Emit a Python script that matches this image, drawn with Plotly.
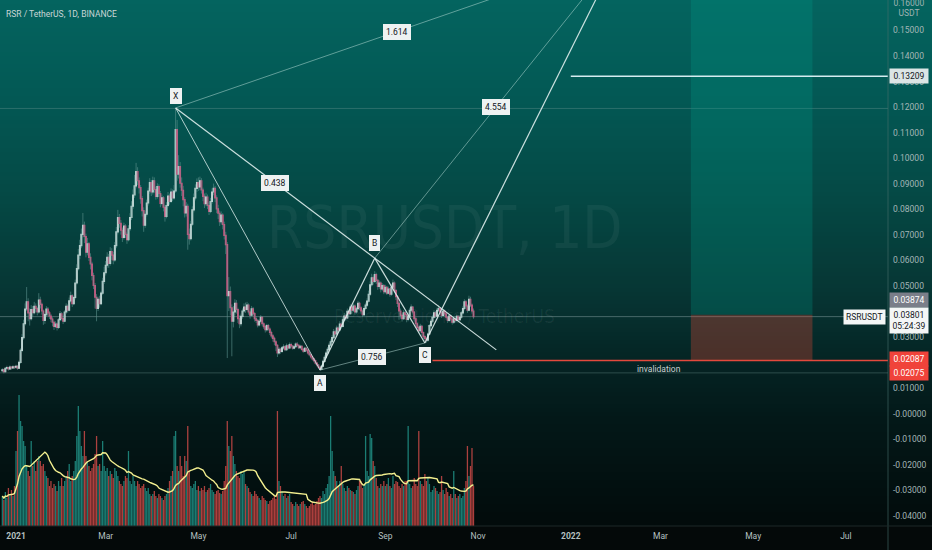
import numpy as np
import pandas as pd
import plotly.graph_objects as go

# ---------------- data ----------------
start_date = "2020-12-23"
first_open = 0.0169

close_dec = [0.0172,0.0165,0.0178,0.0181,0.0175,0.0183,0.0179,0.0184,0.0182]
high_dec = [0.0178,0.0176,0.0182,0.0188,0.0184,0.0189,0.0186,0.0190,0.0188]
low_dec = [0.0162,0.0158,0.0163,0.0172,0.0169,0.0171,0.0173,0.0176,0.0175]

close_jan = [0.0186,0.0178,0.0201,0.0248,0.0298,0.0352,0.0410,0.0438,0.0395,0.0372,0.0408,0.0396,0.0421,0.0412,0.0398,0.0445,0.0428,0.0402,0.0365,0.0388,0.0410,0.0395,0.0382,0.0371,0.0358,0.0342,0.0351,0.0338,0.0368,0.0391,0.0373]
high_jan = [0.0192,0.0190,0.0208,0.0256,0.0312,0.0368,0.0432,0.0496,0.0452,0.0412,0.0425,0.0422,0.0438,0.0432,0.0418,0.0472,0.0458,0.0435,0.0408,0.0395,0.0421,0.0418,0.0402,0.0391,0.0378,0.0365,0.0362,0.0358,0.0375,0.0402,0.0398]
low_jan = [0.0176,0.0172,0.0175,0.0196,0.0241,0.0290,0.0345,0.0402,0.0362,0.0345,0.0365,0.0381,0.0389,0.0398,0.0385,0.0392,0.0412,0.0388,0.0348,0.0352,0.0379,0.0383,0.0371,0.0358,0.0342,0.0328,0.0335,0.0326,0.0332,0.0362,0.0365]

close_feb = [0.0362,0.0398,0.0421,0.0405,0.0442,0.0462,0.0431,0.0455,0.0512,0.0568,0.0621,0.0658,0.0702,0.0738,0.0694,0.0632,0.0665,0.0612,0.0586,0.0541,0.0502,0.0456,0.0412,0.0448,0.0431,0.0472,0.0518,0.0552]
high_feb = [0.0385,0.0405,0.0432,0.0428,0.0455,0.0478,0.0468,0.0462,0.0525,0.0585,0.0645,0.0681,0.0725,0.0786,0.0752,0.0705,0.0688,0.0672,0.0628,0.0595,0.0552,0.0512,0.0468,0.0458,0.0462,0.0481,0.0532,0.0575]
low_feb = [0.0351,0.0358,0.0390,0.0396,0.0401,0.0435,0.0418,0.0425,0.0448,0.0505,0.0561,0.0605,0.0648,0.0690,0.0668,0.0612,0.0620,0.0598,0.0565,0.0522,0.0488,0.0412,0.0362,0.0402,0.0415,0.0425,0.0465,0.0508]

close_mar = [0.0581,0.0612,0.0588,0.0635,0.0621,0.0602,0.0658,0.0712,0.0768,0.0745,0.0718,0.0690,0.0735,0.0702,0.0681,0.0724,0.0768,0.0812,0.0856,0.0892,0.0948,0.0912,0.0885,0.0842,0.0795,0.0738,0.0781,0.0825,0.0872,0.0905,0.0868]
high_mar = [0.0598,0.0632,0.0625,0.0652,0.0648,0.0634,0.0672,0.0731,0.0798,0.0782,0.0758,0.0729,0.0748,0.0742,0.0712,0.0738,0.0785,0.0832,0.0878,0.0935,0.0982,0.0965,0.0925,0.0895,0.0852,0.0808,0.0795,0.0838,0.0885,0.0922,0.0915]
low_mar = [0.0541,0.0572,0.0571,0.0580,0.0602,0.0585,0.0595,0.0648,0.0702,0.0728,0.0701,0.0672,0.0682,0.0688,0.0665,0.0675,0.0715,0.0758,0.0802,0.0845,0.0882,0.0895,0.0862,0.0822,0.0772,0.0712,0.0728,0.0772,0.0815,0.0861,0.0852]

close_apr = [0.0912,0.0878,0.0851,0.0889,0.0862,0.0823,0.0845,0.0808,0.0772,0.0815,0.0852,0.0831,0.0868,0.0845,0.0872,0.1112,0.0938,0.0968,0.0902,0.0875,0.0838,0.0786,0.0812,0.0702,0.0685,0.0742,0.0798,0.0845,0.0882,0.0905]
high_apr = [0.0928,0.0925,0.0889,0.0902,0.0898,0.0872,0.0858,0.0852,0.0818,0.0828,0.0868,0.0862,0.0882,0.0878,0.0895,0.1193,0.1150,0.1012,0.0985,0.0925,0.0892,0.0848,0.0828,0.0822,0.0725,0.0755,0.0812,0.0862,0.0898,0.0921]
low_apr = [0.0858,0.0865,0.0838,0.0842,0.0848,0.0808,0.0815,0.0792,0.0752,0.0765,0.0808,0.0818,0.0825,0.0832,0.0838,0.0865,0.0912,0.0921,0.0885,0.0852,0.0812,0.0768,0.0772,0.0642,0.0662,0.0678,0.0735,0.0788,0.0835,0.0868]

close_may = [0.0888,0.0912,0.0876,0.0851,0.0822,0.0848,0.0815,0.0792,0.0831,0.0868,0.0882,0.0845,0.0802,0.0785,0.0752,0.0778,0.0741,0.0698,0.0662,0.0462,0.0478,0.0415,0.0362,0.0398,0.0432,0.0408,0.0372,0.0352,0.0381,0.0402,0.0418]
high_may = [0.0925,0.0928,0.0922,0.0885,0.0862,0.0865,0.0858,0.0828,0.0845,0.0882,0.0901,0.0892,0.0855,0.0818,0.0795,0.0792,0.0785,0.0752,0.0712,0.0672,0.0535,0.0498,0.0428,0.0421,0.0448,0.0445,0.0415,0.0385,0.0392,0.0412,0.0432]
low_may = [0.0872,0.0875,0.0862,0.0832,0.0805,0.0812,0.0801,0.0778,0.0785,0.0822,0.0855,0.0828,0.0785,0.0762,0.0735,0.0741,0.0722,0.0682,0.0625,0.0218,0.0402,0.0385,0.0225,0.0338,0.0385,0.0392,0.0355,0.0335,0.0342,0.0372,0.0395]

close_jun = [0.0408,0.0425,0.0398,0.0386,0.0411,0.0392,0.0372,0.0365,0.0348,0.0362,0.0378,0.0352,0.0341,0.0329,0.0345,0.0332,0.0318,0.0305,0.0295,0.0282,0.0268,0.0238,0.0252,0.0244,0.0258,0.0262,0.0251,0.0266,0.0258,0.0271]
high_jun = [0.0435,0.0438,0.0432,0.0405,0.0422,0.0418,0.0398,0.0382,0.0371,0.0371,0.0386,0.0382,0.0358,0.0348,0.0352,0.0351,0.0338,0.0325,0.0312,0.0302,0.0288,0.0272,0.0261,0.0258,0.0265,0.0272,0.0268,0.0275,0.0271,0.0279]
low_jun = [0.0395,0.0401,0.0388,0.0372,0.0381,0.0385,0.0361,0.0355,0.0338,0.0342,0.0355,0.0342,0.0332,0.0318,0.0322,0.0325,0.0308,0.0295,0.0282,0.0268,0.0245,0.0222,0.0231,0.0235,0.0238,0.0251,0.0245,0.0246,0.0252,0.0255]

close_jul = [0.0265,0.0257,0.0262,0.0273,0.0268,0.0259,0.0264,0.0252,0.0245,0.0256,0.0249,0.0238,0.0231,0.0222,0.0215,0.0208,0.0198,0.0191,0.0182,0.0174,0.0186,0.0205,0.0221,0.0238,0.0252,0.0268,0.0282,0.0298,0.0321,0.0312,0.0335]
high_jul = [0.0278,0.0269,0.0268,0.0279,0.0281,0.0272,0.0270,0.0268,0.0258,0.0262,0.0260,0.0252,0.0242,0.0235,0.0226,0.0219,0.0212,0.0203,0.0195,0.0186,0.0192,0.0212,0.0229,0.0246,0.0261,0.0278,0.0291,0.0308,0.0332,0.0328,0.0345]
low_jul = [0.0259,0.0251,0.0252,0.0258,0.0262,0.0253,0.0254,0.0247,0.0239,0.0241,0.0243,0.0232,0.0225,0.0216,0.0208,0.0201,0.0192,0.0185,0.0176,0.0169,0.0171,0.0182,0.0201,0.0215,0.0232,0.0245,0.0262,0.0275,0.0292,0.0301,0.0305]

close_aug = [0.0328,0.0351,0.0342,0.0368,0.0382,0.0375,0.0401,0.0392,0.0418,0.0405,0.0422,0.0398,0.0411,0.0432,0.0415,0.0402,0.0388,0.0412,0.0425,0.0441,0.0468,0.0505,0.0532,0.0518,0.0545,0.0522,0.0498,0.0512,0.0488,0.0502,0.0478]
high_aug = [0.0342,0.0362,0.0358,0.0378,0.0395,0.0391,0.0412,0.0408,0.0428,0.0425,0.0431,0.0428,0.0418,0.0442,0.0438,0.0421,0.0408,0.0421,0.0435,0.0452,0.0482,0.0518,0.0548,0.0541,0.0558,0.0552,0.0528,0.0522,0.0518,0.0511,0.0508]
low_aug = [0.0318,0.0322,0.0332,0.0338,0.0361,0.0365,0.0371,0.0382,0.0388,0.0395,0.0398,0.0388,0.0392,0.0405,0.0405,0.0392,0.0378,0.0382,0.0405,0.0418,0.0435,0.0461,0.0498,0.0505,0.0512,0.0508,0.0485,0.0489,0.0475,0.0481,0.0468]

close_sep = [0.0495,0.0472,0.0488,0.0468,0.0495,0.0512,0.0482,0.0458,0.0432,0.0402,0.0385,0.0372,0.0395,0.0388,0.0369,0.0382,0.0405,0.0418,0.0398,0.0372,0.0352,0.0338,0.0325,0.0342,0.0318,0.0302,0.0295,0.0288,0.0312,0.0345]
high_sep = [0.0505,0.0501,0.0498,0.0492,0.0508,0.0525,0.0518,0.0488,0.0465,0.0438,0.0412,0.0392,0.0405,0.0402,0.0392,0.0391,0.0415,0.0428,0.0422,0.0402,0.0378,0.0358,0.0345,0.0352,0.0348,0.0322,0.0308,0.0301,0.0318,0.0352]
low_sep = [0.0471,0.0465,0.0468,0.0458,0.0462,0.0488,0.0472,0.0445,0.0418,0.0368,0.0372,0.0361,0.0368,0.0378,0.0358,0.0362,0.0378,0.0398,0.0388,0.0361,0.0341,0.0328,0.0315,0.0318,0.0305,0.0291,0.0285,0.0278,0.0282,0.0308]

close_oct = [0.0362,0.0378,0.0395,0.0382,0.0405,0.0412,0.0398,0.0385,0.0402,0.0391,0.0378,0.0365,0.0382,0.0371,0.0358,0.0372,0.0365,0.0381,0.0368,0.0378,0.0395,0.0412,0.0438,0.0422,0.0405,0.0448,0.0425,0.0402,0.0380]
high_oct = [0.0371,0.0385,0.0405,0.0402,0.0415,0.0425,0.0418,0.0405,0.0411,0.0408,0.0395,0.0382,0.0391,0.0388,0.0375,0.0381,0.0378,0.0388,0.0385,0.0386,0.0402,0.0421,0.0448,0.0445,0.0428,0.0462,0.0458,0.0432,0.0412]
low_oct = [0.0338,0.0355,0.0372,0.0375,0.0378,0.0398,0.0388,0.0375,0.0381,0.0382,0.0368,0.0355,0.0361,0.0362,0.0349,0.0352,0.0358,0.0361,0.0361,0.0362,0.0372,0.0388,0.0405,0.0412,0.0395,0.0401,0.0418,0.0392,0.0372]

vol_dec = [30,26,34,28,38,32,36,30,40]
vol_jan = [75,95,131,105,100,85,80,60,55,50,85,60,65,55,65,70,65,60,62,55,50,48,40,45,38,42,40,35,45,40,48]
vol_feb = [40,45,50,55,62,45,50,55,65,90,120,95,80,70,95,70,65,60,55,58,62,72,90,60,62,55,85,60]
vol_mar = [55,58,50,55,52,48,58,55,50,45,42,40,45,50,48,75,45,42,50,45,40,45,42,38,40,42,38,35,38,32,30]
vol_apr = [32,35,30,28,32,30,28,26,30,32,38,45,50,55,90,95,60,55,70,60,50,70,65,100,55,40,38,42,45,36]
vol_may = [40,35,38,36,40,34,36,38,42,36,34,32,35,36,33,32,35,45,60,105,80,75,90,70,62,55,50,48,55,52,55]
vol_jun = [42,40,38,34,32,30,35,32,30,28,26,30,28,26,25,22,25,26,28,30,27,115,45,40,35,30,32,28,30,32]
vol_jul = [24,22,20,24,22,20,22,24,25,22,20,18,20,22,24,21,22,25,28,30,28,35,32,38,42,50,110,75,55,50,45]
vol_aug = [40,45,60,42,38,35,40,38,36,35,34,32,36,40,45,45,38,42,90,55,50,92,88,65,60,48,40,38,42,40,45]
vol_sep = [40,42,48,40,38,50,42,45,44,40,38,42,40,45,45,100,42,38,40,48,42,40,95,45,42,40,52,45,48,42]
vol_oct = [34,36,40,38,35,32,34,50,36,32,38,34,30,32,28,55,32,28,30,32,28,30,38,45,80,50,60,78,40]

close = close_dec + close_jan + close_feb + close_mar + close_apr + close_may + close_jun + close_jul + close_aug + close_sep + close_oct
high = high_dec + high_jan + high_feb + high_mar + high_apr + high_may + high_jun + high_jul + high_aug + high_sep + high_oct
low = low_dec + low_jan + low_feb + low_mar + low_apr + low_may + low_jun + low_jul + low_aug + low_sep + low_oct
volume = vol_dec + vol_jan + vol_feb + vol_mar + vol_apr + vol_may + vol_jun + vol_jul + vol_aug + vol_sep + vol_oct
n = min(len(close), len(high), len(low), len(volume))
close, high, low, volume = close[:n], high[:n], low[:n], volume[:n]
open_ = [first_open] + close[:-1]
dates = pd.date_range(start_date, periods=n, freq="D")

# XABCD pattern (dates, prices)
pt_names = ["X", "A", "B", "C"]
pt_dates = ["2021-04-16", "2021-07-20", "2021-08-25", "2021-09-27"]
pt_prices = [0.1197, 0.0171, 0.0609, 0.0277]
d_date, d_price = "2022-02-01", 0.1795
xb_end_date, xb_end_price = "2021-11-13", 0.0250
ratio_xb, ratio_ac, ratio_xd, ratio_bd = "0.438", "0.756", "1.614", "4.554"

# long position tool & levels
entry_price = 0.03874
stop_price = 0.02087
stop_price2 = 0.02075
target_top = 0.17
pos_start, pos_end = "2022-03-21", "2022-06-09"
last_price = 0.03801
target_line = 0.13209
target_line_start = "2022-01-01"
stop_line_start = "2021-10-02"
far_right = "2022-09-30"
ray_levels = [0.1195, 0.0160]
invalid_date = "2022-02-28"

y_ticks = [0.15, 0.14, 0.13, 0.12, 0.11, 0.10, 0.09, 0.08, 0.07, 0.06, 0.05, 0.04, 0.03, 0.02, 0.01, 0.0, -0.01, -0.02, -0.03, -0.04]
x_tick_dates = ["2021-01-01", "2021-03-01", "2021-05-01", "2021-07-01", "2021-09-01", "2021-11-01",
                "2022-01-01", "2022-03-01", "2022-05-01", "2022-07-01"]
x_tick_text = ["<b>2021</b>", "Mar", "May", "Jul", "Sep", "Nov", "<b>2022</b>", "Mar", "May", "Jul"]

# ---------------- figure ----------------
W, H = 932, 550
PLOT_W, PLOT_H = 888, 526
FONT = "Roboto, Liberation Sans, sans-serif"

def py(p):  # pixel y -> paper y
    return 1 - p / PLOT_H

def mid(d1, d2):
    a, b = pd.Timestamp(d1), pd.Timestamp(d2)
    return a + (b - a) / 2

up = [c >= o for c, o in zip(close, open_)]
vol_colors = ["rgba(38,166,154,0.72)" if u else "rgba(239,83,80,0.72)" for u in up]
vol_ma = pd.Series(volume, dtype=float).rolling(20, min_periods=1).mean()

wx, wy = [], []
for d, h, l in zip(dates, high, low):
    wx += [d, d, None]
    wy += [l, h, None]

fig = go.Figure()
fig.add_trace(go.Bar(x=dates, y=volume, marker=dict(color=vol_colors, line=dict(width=0)),
                     yaxis="y2", hoverinfo="skip"))
fig.add_trace(go.Scatter(x=dates, y=vol_ma, mode="lines", line=dict(color="#f3ef8f", width=1.4),
                         yaxis="y2", hoverinfo="skip"))
fig.add_trace(go.Scatter(x=wx, y=wy, mode="lines", line=dict(color="rgba(95,150,144,0.75)", width=0.8),
                         hoverinfo="skip", connectgaps=False))
body_hi = [max(o, c) for o, c in zip(open_, close)]
body_lo = [min(o, c) for o, c in zip(open_, close)]
fig.add_trace(go.Candlestick(x=dates, open=open_, high=body_hi, low=body_lo, close=close,
                             increasing=dict(line=dict(color="#eef7f6", width=1.1), fillcolor="#eef7f6"),
                             decreasing=dict(line=dict(color="#e6467c", width=1.1), fillcolor="#e6467c"),
                             whiskerwidth=0, hoverinfo="skip"))

shapes = []
# background gradient bands
stops = [(0, (4, 100, 95)), (100, (3, 88, 84)), (200, (5, 72, 68)), (300, (6, 52, 50)),
         (360, (5, 36, 36)), (420, (3, 24, 24)), (526, (2, 11, 11))]
def grad(p):
    for (p0, c0), (p1, c1) in zip(stops[:-1], stops[1:]):
        if p0 <= p <= p1:
            t = (p - p0) / (p1 - p0)
            return "rgb(%d,%d,%d)" % tuple(round(c0[i] + (c1[i] - c0[i]) * t) for i in range(3))
    return "rgb(2,11,11)"
band = 4
for p in range(0, PLOT_H, band):
    shapes.append(dict(type="rect", xref="paper", yref="paper", x0=0, x1=W / PLOT_W,
                       y0=py(min(p + band, PLOT_H)), y1=py(p), fillcolor=grad(p + band / 2),
                       line=dict(width=0), layer="below"))

# position tool
shapes.append(dict(type="rect", xref="x", yref="y", x0=pos_start, x1=pos_end, y0=entry_price, y1=target_top,
                   fillcolor="rgba(0,160,140,0.26)", line=dict(width=0), layer="below"))
shapes.append(dict(type="rect", xref="x", yref="y", x0=pos_start, x1=pos_end, y0=stop_price, y1=entry_price,
                   fillcolor="rgba(225,72,52,0.32)", line=dict(width=0), layer="below"))

# horizontal levels
for lv in ray_levels:
    shapes.append(dict(type="line", xref="paper", yref="y", x0=0, x1=1, y0=lv, y1=lv,
                       line=dict(color="rgba(120,160,158,0.35)", width=1), layer="below"))
shapes.append(dict(type="line", xref="paper", yref="y", x0=0, x1=1, y0=last_price, y1=last_price,
                   line=dict(color="rgba(150,175,175,0.45)", width=1), layer="below"))
shapes.append(dict(type="line", xref="x", yref="y", x0=target_line_start, x1=far_right, y0=target_line, y1=target_line,
                   line=dict(color="#d6ecf0", width=1.4), layer="above"))
shapes.append(dict(type="line", xref="x", yref="y", x0=stop_line_start, x1=far_right, y0=stop_price, y1=stop_price,
                   line=dict(color="#e4493d", width=1.5), layer="above"))

# pattern lines
P = dict(zip(pt_names, zip(pt_dates, pt_prices)))
P["D"] = (d_date, d_price)
P["E"] = (xb_end_date, xb_end_price)
bright = dict(color="rgba(225,240,238,0.9)", width=1.2)
faint = dict(color="rgba(190,225,220,0.5)", width=1)
for a, b, st in [("X", "A", dict(color="rgba(220,238,236,0.8)", width=1)), ("X", "E", bright), ("A", "B", bright),
                 ("B", "C", bright), ("A", "C", faint), ("X", "D", faint), ("B", "D", faint), ("C", "D", bright)]:
    shapes.append(dict(type="line", xref="x", yref="y", x0=P[a][0], y0=P[a][1], x1=P[b][0], y1=P[b][1],
                       line=st, layer="above"))

# separators
shapes.append(dict(type="line", xref="paper", yref="paper", x0=1, x1=1, y0=-24 / PLOT_H, y1=1,
                   line=dict(color="rgba(70,110,108,0.6)", width=1)))
shapes.append(dict(type="line", xref="paper", yref="paper", x0=0, x1=W / PLOT_W, y0=0, y1=0,
                   line=dict(color="#1c2828", width=1)))

ann = []
lab = dict(showarrow=False, bgcolor="#eef2f2", bordercolor="#eef2f2", borderpad=2,
           font=dict(family=FONT, size=8.5, color="#131722"))
shifts = {"X": 12, "A": -13, "B": 15, "C": -12}
for nm in pt_names:
    ann.append(dict(x=P[nm][0], y=P[nm][1], xref="x", yref="y", text=nm, yshift=shifts[nm], **lab))
for a, b, t in [("X", "B", ratio_xb), ("A", "C", ratio_ac), ("X", "D", ratio_xd), ("B", "D", ratio_bd)]:
    ann.append(dict(x=mid(P[a][0], P[b][0]), y=(P[a][1] + P[b][1]) / 2, xref="x", yref="y", text=t, **lab))

# watermark
ann.append(dict(x=0.501, y=py(228), xref="paper", yref="paper", showarrow=False, text="RSRUSDT, 1D",
                font=dict(family="Liberation Sans Narrow, DejaVu Sans Condensed, Roboto", size=58,
                          color="rgba(255,255,255,0.05)")))
ann.append(dict(x=0.501, y=py(316), xref="paper", yref="paper", showarrow=False, text="Reserve Rights / TetherUS",
                font=dict(family="Liberation Sans Narrow, DejaVu Sans Condensed, Roboto", size=19,
                          color="rgba(255,255,255,0.06)")))

# header and labels
ann.append(dict(x=0.005, y=py(14), xref="paper", yref="paper", xanchor="left", yanchor="middle", showarrow=False,
                text="RSR / TetherUS, 1D, BINANCE", font=dict(family=FONT, size=8.5, color="#c9d6d6")))
ann.append(dict(x=invalid_date, y=stop_price, xref="x", yref="y", yshift=-9, showarrow=False,
                text="invalidation", font=dict(family=FONT, size=8.5, color="#c8d0d0")))

ax = dict(xref="paper", x=1, xanchor="left", xshift=1, showarrow=False, borderpad=2, width=34)
ann.append(dict(yref="paper", y=py(3), yanchor="middle", text="0.16000",
                font=dict(family=FONT, size=8.5, color="#9fb3b3"), **ax))
ann.append(dict(yref="paper", y=py(13), yanchor="middle", text="USDT",
                font=dict(family=FONT, size=8.5, color="#9fb3b3"), **ax))
ann.append(dict(yref="y", y=target_line, text="0.13209", bgcolor="#dce5e5",
                font=dict(family=FONT, size=8.5, color="#131722"), **ax))
ann.append(dict(yref="y", y=entry_price, yshift=15, text="0.03874", bgcolor="#7a7e89",
                font=dict(family=FONT, size=8.5, color="#ffffff"), **ax))
ann.append(dict(yref="y", y=last_price, yshift=-4, text="0.03801<br>05:24:39", bgcolor="#f4f6f6",
                font=dict(family=FONT, size=8.5, color="#131722"), **ax))
ann.append(dict(yref="y", y=stop_price, yshift=1, text="0.02087", bgcolor="#f0433a",
                font=dict(family=FONT, size=8.5, color="#ffffff"), **ax))
ann.append(dict(yref="y", y=stop_price2, yshift=-12, text="0.02075", bgcolor="#f0433a",
                font=dict(family=FONT, size=8.5, color="#ffffff"), **ax))
ann.append(dict(xref="paper", x=1, xanchor="right", xshift=-2, yref="y", y=last_price, showarrow=False,
                text="RSRUSDT", bgcolor="#f4f6f6", borderpad=2,
                font=dict(family=FONT, size=8.5, color="#131722")))

day0 = pd.Timestamp("2021-01-01")
x_range = [day0 - pd.Timedelta(days=10.53), day0 + pd.Timedelta(days=573.7)]

fig.update_layout(
    width=W, height=H,
    margin=dict(l=0, r=W - PLOT_W, t=0, b=H - PLOT_H, pad=0),
    paper_bgcolor="#040909", plot_bgcolor="rgba(0,0,0,0)",
    showlegend=False, bargap=0.15, dragmode=False,
    shapes=shapes, annotations=ann,
    xaxis=dict(type="date", range=x_range, rangeslider=dict(visible=False), showgrid=False, zeroline=False,
               tickvals=x_tick_dates, ticktext=x_tick_text, ticks="", ticklabelstandoff=3,
               tickfont=dict(family=FONT, size=8.5, color="#b4c0c0"), showline=False, automargin=False),
    yaxis=dict(range=[-0.04393, 0.16194], side="right", showgrid=False, zeroline=False,
               tickvals=y_ticks, ticktext=["-0.00000" if v == 0 else "%.5f" % v for v in y_ticks],
               ticks="", ticklabelstandoff=4, automargin=False,
               tickfont=dict(family=FONT, size=8.5, color="#a3b6b6")),
    yaxis2=dict(overlaying="y", range=[0, PLOT_H], visible=False),
)

fig.write_html("out.html", config={"displayModeBar": False},
               post_script="document.body.style.margin='0';document.body.style.overflow='hidden';")
